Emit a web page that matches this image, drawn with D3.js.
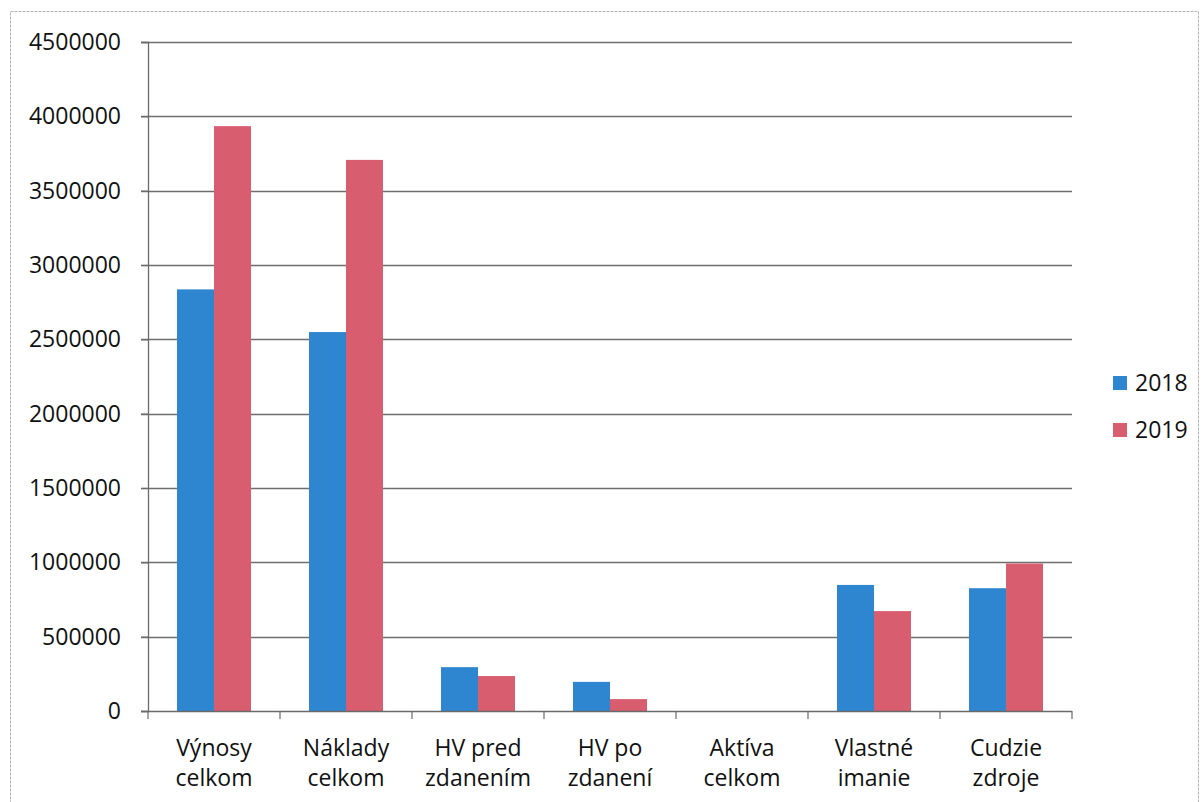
<!DOCTYPE html>
<html>
<head>
<meta charset="utf-8">
<script src="https://cdn.jsdelivr.net/npm/d3@7"></script>
<style>
  body { margin: 0; background: #fff; }
  svg { display: block; }
  text { font-family: "Open Sans", "Noto Sans", sans-serif; fill: #111; }
</style>
</head>
<body>
<svg id="chart" width="1204" height="802"></svg>
<script>
const categories = [
  ["Výnosy", "celkom"],
  ["Náklady", "celkom"],
  ["HV pred", "zdanením"],
  ["HV po", "zdanení"],
  ["Aktíva", "celkom"],
  ["Vlastné", "imanie"],
  ["Cudzie", "zdroje"]
];
const seriesNames = ["2018", "2019"];
const values2018 = [2836000, 2549000, 295000, 196000, 0, 848000, 826000];
const values2019 = [3934000, 3707000, 235000, 80000, 0, 672000, 992000];
const yTicks = [0, 500000, 1000000, 1500000, 2000000, 2500000, 3000000, 3500000, 4000000, 4500000];
const colors = ["#2f86d0", "#d85d6f"];

const svg = d3.select("#chart");
const plot = { left: 148, right: 1072, top: 42, bottom: 711 };
const FS = 23;

// outer border (scanned chart frame)
svg.append("rect")
  .attr("x", 10.5).attr("y", 11.5)
  .attr("width", 1188).attr("height", 820)
  .attr("fill", "none").attr("stroke", "#b5b5b5").attr("stroke-width", 1)
  .attr("stroke-dasharray", "3,1");

const keys = categories.map((c, i) => i);
const x0 = d3.scaleBand().domain(keys).range([plot.left, plot.right]).paddingInner(0).paddingOuter(0);
const x1 = d3.scaleBand().domain(seriesNames).range([0, x0.bandwidth()]).paddingInner(0).paddingOuter(0.784);
const y = d3.scaleLinear().domain([0, 4500000]).range([plot.bottom, plot.top]);

// gridlines
svg.append("g").selectAll("line").data(yTicks.filter(d => d > 0)).join("line")
  .attr("x1", plot.left - 7).attr("x2", plot.right)
  .attr("y1", d => Math.round(y(d)) + 0.5).attr("y2", d => Math.round(y(d)) + 0.5)
  .attr("stroke", "#6e6e6e").attr("stroke-width", 1.3);

// bars
const data = keys.map(i => ({ i, vals: [values2018[i], values2019[i]] }));
const groups = svg.append("g").selectAll("g").data(data).join("g")
  .attr("transform", d => `translate(${x0(d.i)},0)`);
groups.selectAll("rect").data(d => d.vals.map((v, k) => ({ k, v }))).join("rect")
  .attr("x", d => x1(seriesNames[d.k]))
  .attr("width", x1.bandwidth())
  .attr("y", d => y(d.v))
  .attr("height", d => plot.bottom - y(d.v))
  .attr("fill", d => colors[d.k]);

// y axis
const yAxis = d3.axisLeft(y).tickValues(yTicks).tickFormat(d3.format("d")).tickSize(7).tickPadding(20);
const yg = svg.append("g").attr("transform", `translate(${plot.left},0)`).call(yAxis);
yg.select(".domain").attr("stroke", "#6a6a6a").attr("stroke-width", 1.3);
yg.selectAll(".tick line").attr("stroke", "#6a6a6a").attr("stroke-width", 1.2);
yg.selectAll(".tick text").attr("font-size", FS).attr("fill", "#111")
  .style("font-family", '"Open Sans", "Noto Sans", sans-serif');

// x axis baseline & ticks
svg.append("line").attr("x1", plot.left - 7).attr("x2", plot.right)
  .attr("y1", plot.bottom + 0.5).attr("y2", plot.bottom + 0.5)
  .attr("stroke", "#6a6a6a").attr("stroke-width", 1.3);
const boundaries = keys.map(i => x0(i)).concat([plot.right]);
svg.append("g").selectAll("line").data(boundaries).join("line")
  .attr("x1", d => d).attr("x2", d => d)
  .attr("y1", plot.bottom).attr("y2", plot.bottom + 8)
  .attr("stroke", "#6a6a6a").attr("stroke-width", 1.2);

// category labels
const lbl = svg.append("g").selectAll("text").data(data).join("text")
  .attr("x", d => x0(d.i) + x0.bandwidth() / 2)
  .attr("y", 756)
  .attr("text-anchor", "middle")
  .attr("font-size", FS);
lbl.append("tspan").attr("x", d => x0(d.i) + x0.bandwidth() / 2).text(d => categories[d.i][0]);
lbl.append("tspan").attr("x", d => x0(d.i) + x0.bandwidth() / 2).attr("dy", 30).text(d => categories[d.i][1]);

// legend
const leg = svg.append("g").selectAll("g").data(seriesNames).join("g")
  .attr("transform", (d, k) => `translate(1113, ${383 + k * 47})`);
leg.append("rect").attr("x", 0).attr("y", -7).attr("width", 14).attr("height", 14)
  .attr("fill", (d, k) => colors[k]);
leg.append("text").attr("x", 22).attr("y", 8).attr("font-size", FS).text(d => d);
</script>
</body>
</html>
